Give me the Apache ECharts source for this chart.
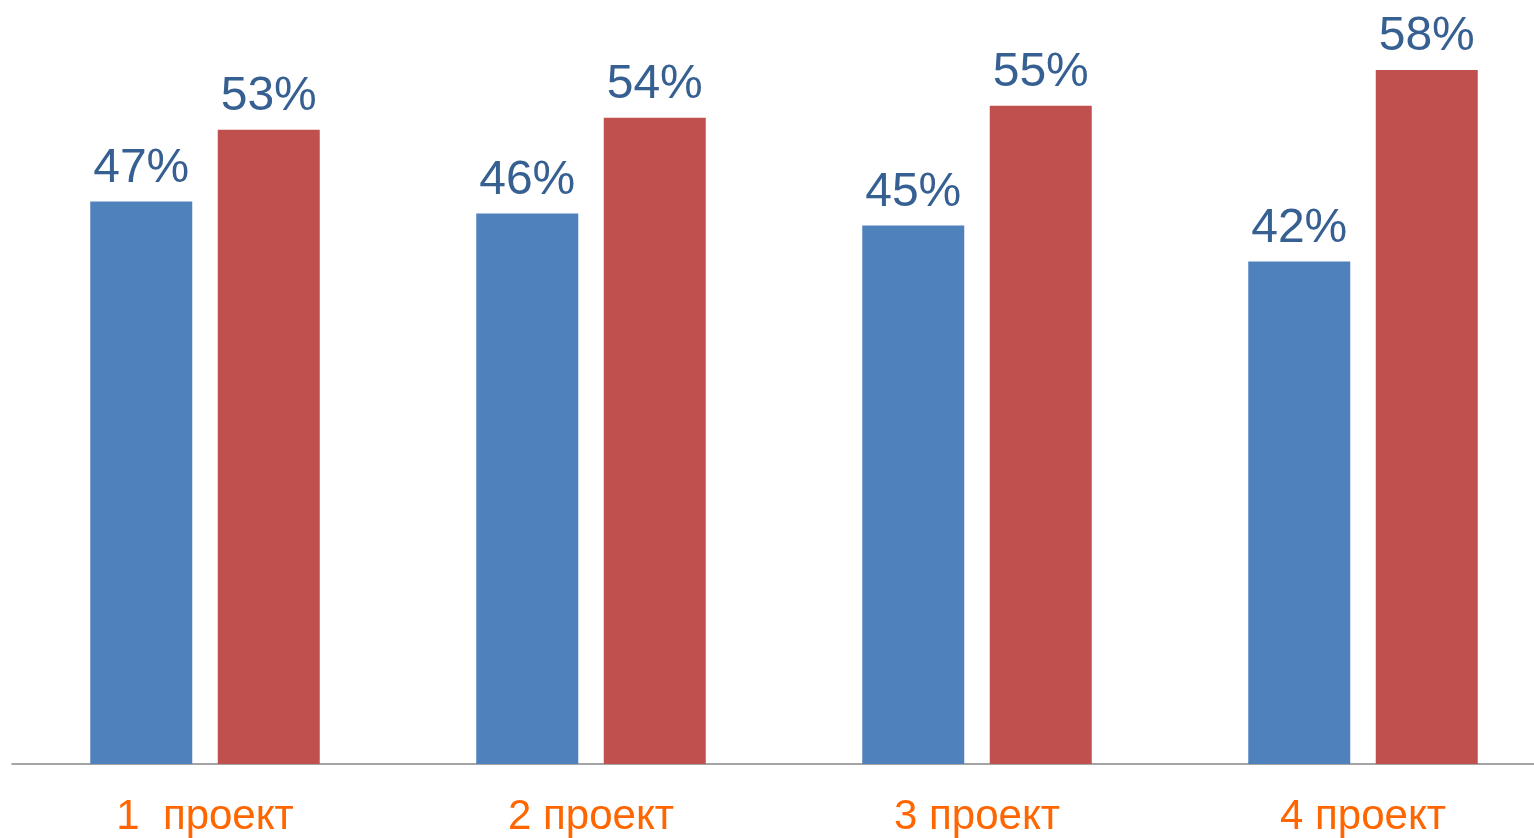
<!DOCTYPE html>
<html>
<head>
<meta charset="utf-8">
<script src="https://cdn.jsdelivr.net/npm/echarts@6/dist/echarts.min.js"></script>
<style>
html,body{margin:0;padding:0;background:#fff;}
#chart{width:1534px;height:838px;}
</style>
</head>
<body>
<div id="chart"></div>
<script>
const categories = ['1  проект', '2 проект', '3 проект', '4 проект'];
const seriesA = [47, 46, 45, 42];
const seriesB = [53, 54, 55, 58];

const chart = echarts.init(document.getElementById('chart'));
const labelStyle = {
  show: true,
  position: 'top',
  distance: 9,
  formatter: p => p.value + '%',
  color: '#376092',
  fontSize: 48,
  fontFamily: 'Liberation Sans, Arial, sans-serif'
};
chart.setOption({
  animation: false,
  grid: { left: 12, top: 46, right: -22, bottom: 74, containLabel: false, outerBoundsMode: 'none' },
  xAxis: {
    type: 'category',
    data: categories,
    axisLine: { show: true, lineStyle: { color: '#868686', width: 1.5 } },
    axisTick: { show: false },
    axisLabel: {
      color: '#FF6600',
      fontSize: 42,
      margin: 32,
      fontFamily: 'Liberation Sans, Arial, sans-serif'
    }
  },
  yAxis: {
    type: 'value',
    min: 0,
    max: 60,
    show: false,
    splitLine: { show: false }
  },
  series: [
    {
      type: 'bar',
      data: seriesA,
      barWidth: 102,
      barGap: '25%',
      itemStyle: { color: '#4F81BD' },
      label: labelStyle
    },
    {
      type: 'bar',
      data: seriesB,
      barWidth: 102,
      barGap: '25%',
      itemStyle: { color: '#C0504D' },
      label: labelStyle
    }
  ]
});
</script>
</body>
</html>
